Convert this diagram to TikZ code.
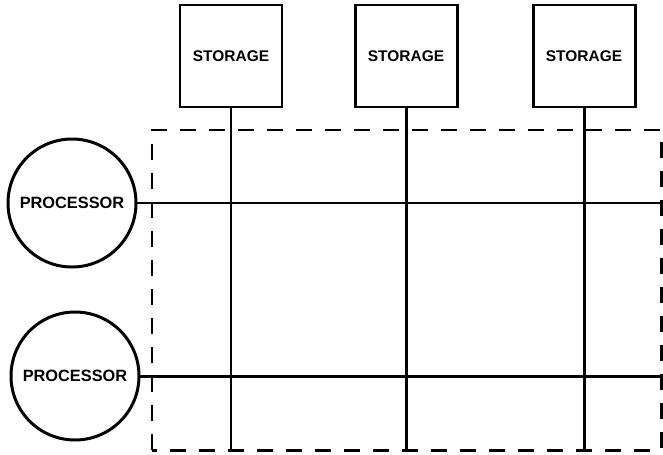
\documentclass[tikz,border=0pt]{standalone}
\usepackage{fontspec}
\setmainfont{Liberation Sans}
\usepackage{tikz}

\begin{document}
\begin{tikzpicture}[line width=1.7pt,
        store/.style = {draw, minimum width=2.04cm, minimum height=2.04cm, inner sep=0pt, font=\fontsize{8.8}{10}\selectfont\bfseries},
        proc/.style = {draw, circle, minimum size=2.56cm, inner sep=0pt, font=\fontsize{9.3}{11}\selectfont\bfseries},
        bus/.style = {dash pattern=on 9pt off 7.5pt}]
        \useasboundingbox (0,0) rectangle (13.26,9.08);
        \node[store] (s1) at (4.62,7.96) {STORAGE};
        \node[store] (s2) at (8.12,7.96) {STORAGE};
        \node[store] (s3) at (11.68,7.96) {STORAGE};
        \node[proc] (p1) at (1.44,5.02) {PROCESSOR};
        \node[proc] (p2) at (1.50,1.56) {PROCESSOR};
        \coordinate (b1) at (4.62,0.08);
        \coordinate (b2) at (8.12,0.08);
        \coordinate (b3) at (11.68,0.08);
        \coordinate (r1) at (13.26,5.02);
        \coordinate (r2) at (13.26,1.56);
        \draw[bus] (3.04,0.08) rectangle (13.22,6.48);
        \draw (s1) -- (b1);
        \draw (s2) -- (b2);
        \draw (s3) -- (b3);
        \draw (p1) -- (r1);
        \draw (p2) -- (r2);
      \end{tikzpicture}
\end{document}
